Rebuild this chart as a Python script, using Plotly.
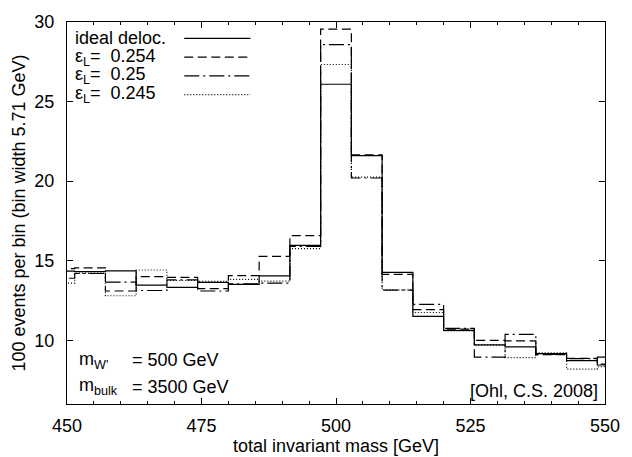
import plotly.graph_objects as go

# bin edges: 400 + k*200/35 GeV, bin width 5.71 GeV
bin_width = 200.0 / 35.0
bin_left = [400 + k * bin_width for k in range(8, 27)]

ideal = [14.35, 14.32, 14.36, 13.47, 13.33, 13.64, 13.52, 14.05, 15.96, 26.09,
         21.60, 14.27, 11.50, 10.62, 9.72, 9.59, 9.16, 8.72, 8.45]
eps_0254 = [14.50, 14.55, 13.10, 14.00, 13.95, 13.25, 14.07, 15.28, 16.58, 29.55,
            21.65, 14.15, 11.93, 10.70, 10.00, 9.96, 9.10, 8.87, 8.50]
eps_025 = [13.90, 14.20, 13.66, 13.13, 13.80, 13.10, 13.55, 13.60, 15.90, 28.58,
           20.20, 13.15, 12.26, 10.75, 8.95, 10.38, 9.12, 8.85, 8.95]
eps_0245 = [13.60, 14.22, 12.80, 14.42, 13.76, 13.70, 13.83, 13.72, 15.76, 27.33,
            20.25, 13.17, 11.75, 10.60, 9.70, 8.91, 9.22, 8.19, 8.35]

labels = ["ideal deloc.", "ε<sub>L</sub>=\u00a0 0.254", "ε<sub>L</sub>=\u00a0 0.25",
          "ε<sub>L</sub>=\u00a0 0.245"]
series = [ideal, eps_0254, eps_025, eps_0245]
dashes = ["solid", "9px,4.5px", "15px,4px,2px,4px", "1px,2px"]

FONT = "Liberation Sans, Arial, sans-serif"
FS = 18

fig = go.Figure()
xs = bin_left + [bin_left[-1] + bin_width]
for vals, dash, name in zip(series, dashes, labels):
    ys = vals + [vals[-1]]
    fig.add_trace(go.Scatter(x=xs, y=ys, mode="lines", line_shape="hv",
                             line=dict(color="black", width=1.2, dash=dash),
                             name=name, showlegend=False, cliponaxis=True,
                             hoverinfo="skip"))

# manual legend (text left, line sample right)
row_y = [0.957, 0.908, 0.859, 0.810]
for ry, name, dash in zip(row_y, labels, dashes):
    fig.add_annotation(x=0.012, y=ry, xref="paper", yref="paper", text=name,
                       showarrow=False, xanchor="left", yanchor="middle",
                       font=dict(family=FONT, size=FS, color="black"))
    fig.add_shape(type="line", xref="paper", yref="paper", x0=0.218, x1=0.341,
                  y0=ry, y1=ry, line=dict(color="black", width=1.2, dash=dash))

fig.add_annotation(x=0.018, y=0.115, xref="paper", yref="paper",
                   text="m<sub>W'</sub>", showarrow=False, xanchor="left",
                   yanchor="middle", font=dict(family=FONT, size=FS, color="black"))
fig.add_annotation(x=0.118, y=0.115, xref="paper", yref="paper",
                   text="= 500 GeV", showarrow=False, xanchor="left",
                   yanchor="middle", font=dict(family=FONT, size=FS, color="black"))
fig.add_annotation(x=0.018, y=0.045, xref="paper", yref="paper",
                   text="m<sub>bulk</sub>", showarrow=False, xanchor="left",
                   yanchor="middle", font=dict(family=FONT, size=FS, color="black"))
fig.add_annotation(x=0.118, y=0.045, xref="paper", yref="paper",
                   text="= 3500 GeV", showarrow=False, xanchor="left",
                   yanchor="middle", font=dict(family=FONT, size=FS, color="black"))
fig.add_annotation(x=0.99, y=0.035, xref="paper", yref="paper",
                   text="[Ohl, C.S. 2008]", showarrow=False, xanchor="right",
                   yanchor="middle", font=dict(family=FONT, size=FS, color="black"))

# x-axis title placed as annotation below the tick labels
fig.add_annotation(x=0.5, y=-0.111, xref="paper", yref="paper",
                   text="total invariant mass [GeV]", showarrow=False,
                   xanchor="center", yanchor="middle",
                   font=dict(family=FONT, size=FS, color="black"))

fig.update_xaxes(range=[450, 550], tickvals=[450, 475, 500, 525, 550],
                 ticks="inside", ticklen=6, tickcolor="black", ticklabelstandoff=5,
                 minor=dict(dtick=5, ticks="inside", ticklen=3, tickcolor="black"),
                 showline=True, linecolor="black", linewidth=1, mirror="allticks",
                 showgrid=False, zeroline=False,
                 tickfont=dict(family=FONT, size=FS, color="black"))
fig.update_yaxes(range=[6, 30], tickvals=[10, 15, 20, 25, 30],
                 ticks="inside", ticklen=6, tickcolor="black", ticklabelstandoff=8,
                 showline=True, linecolor="black", linewidth=1, mirror="allticks",
                 showgrid=False, zeroline=False,
                 title=dict(text="100 events per bin (bin width 5.71 GeV)", standoff=4,
                            font=dict(family=FONT, size=FS, color="black")),
                 tickfont=dict(family=FONT, size=FS, color="black"))

fig.update_layout(width=632, height=457, plot_bgcolor="white", paper_bgcolor="white",
                  margin=dict(l=67, r=19, t=16, b=53), showlegend=False,
                  hovermode=False,
                  font=dict(family=FONT, size=FS, color="black"))

fig.write_html("out.html", config={"displayModeBar": False},
               post_script="document.body.style.margin='0px';"
                           "document.body.style.overflow='hidden';")
